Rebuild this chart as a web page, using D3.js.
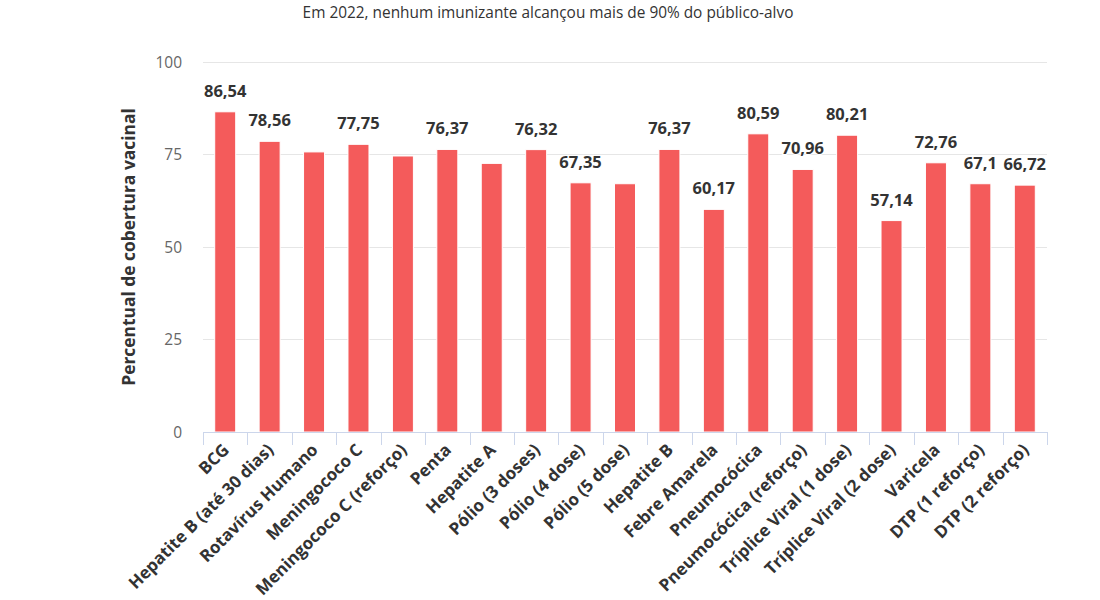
<!DOCTYPE html>
<html><head><meta charset="utf-8">
<script src="https://cdn.jsdelivr.net/npm/d3@7"></script>
<style>body{margin:0;background:#fff;overflow:hidden}svg{display:block;font-family:"Open Sans",sans-serif}</style>
</head><body><svg id="c" width="1100" height="600"></svg>
<script>
const title = "Em 2022, nenhum imunizante alcançou mais de 90% do público-alvo";
const yAxisTitle = "Percentual de cobertura vacinal";
const categories = ["BCG","Hepatite B (até 30 dias)","Rotavírus Humano","Meningococo C","Meningococo C (reforço)","Penta","Hepatite A","Pólio (3 doses)","Pólio (4 dose)","Pólio (5 dose)","Hepatite B","Febre Amarela","Pneumocócica","Pneumocócica (reforço)","Tríplice Viral (1 dose)","Tríplice Viral (2 dose)","Varicela","DTP (1 reforço)","DTP (2 reforço)"];
const values = [86.54,78.56,75.7,77.75,74.6,76.37,72.6,76.32,67.35,67.1,76.37,60.17,80.59,70.96,80.21,57.14,72.76,67.1,66.72];
const labelShown = [true,true,false,true,false,true,false,true,true,false,true,true,true,true,true,true,true,true,true];
const yTicks = [0,25,50,75,100];

const svg = d3.select("#c");
const m = {left:203, right:1047, top:62, bottom:432};
const x = d3.scaleBand().domain(categories).range([m.left, m.right]).paddingInner(0).paddingOuter(0);
const y = d3.scaleLinear().domain([0,100]).range([m.bottom, m.top]);
const fmt = v => String(v).replace(".", ",");

svg.append("text").attr("x", 548).attr("y", 18).attr("text-anchor","middle")
  .attr("font-size", 15.4).attr("fill","#333").text(title);

// grid
const yAx = svg.append("g");
yAx.selectAll("line").data(yTicks.filter(d=>d>0)).join("line")
  .attr("x1", m.left).attr("x2", m.right).attr("y1", d=>y(d)).attr("y2", d=>y(d))
  .attr("stroke","#e6e6e6").attr("stroke-width",1).attr("shape-rendering","crispEdges");
yAx.selectAll("text").data(yTicks).join("text")
  .attr("x", 182).attr("y", d=>y(d)+5.5).attr("text-anchor","end")
  .attr("font-size", 15.5).attr("fill","#666").text(d=>d);

svg.append("text").attr("transform",`translate(135,${(m.top+m.bottom)/2}) rotate(-90)`)
  .attr("text-anchor","middle").attr("font-size",17.4).attr("font-weight","bold").attr("fill","#333").text(yAxisTitle);

// bars
svg.append("g").selectAll("rect").data(categories).join("rect")
  .attr("x", d=>x(d)+x.bandwidth()/2-10.5).attr("width",21)
  .attr("y", (d,i)=>y(values[i])).attr("height",(d,i)=>y(0)-y(values[i]))
  .attr("fill","#f45b5b").attr("stroke","#fff").attr("stroke-width",1);

// x axis
const xa = svg.append("g");
xa.append("line").attr("x1",m.left).attr("x2",m.right).attr("y1",m.bottom+0.5).attr("y2",m.bottom+0.5).attr("stroke","#ccd6eb");
xa.selectAll("line.t").data(categories.concat([null])).join("line").attr("class","t")
  .attr("x1",(d,i)=>Math.round(m.left+i*x.bandwidth())+0.5).attr("x2",(d,i)=>Math.round(m.left+i*x.bandwidth())+0.5)
  .attr("y1",m.bottom).attr("y2",m.bottom+13).attr("stroke","#ccd6eb");
xa.selectAll("text").data(categories).join("text")
  .attr("transform", d=>`translate(${x(d)+x.bandwidth()/2+5},${m.bottom+19}) rotate(-45)`)
  .attr("text-anchor","end").attr("font-size",17).attr("font-weight","bold").attr("fill","#333").text(d=>d);

// data labels
const dl = svg.append("g");
categories.forEach((c,i)=>{
  if(!labelShown[i]) return;
  dl.append("text").attr("x", x(c)+x.bandwidth()/2).attr("y", y(values[i])-15)
    .attr("text-anchor","middle").attr("font-size",16.5).attr("font-weight","bold")
    .attr("fill","#333").attr("stroke","#fff").attr("stroke-width",2).attr("paint-order","stroke")
    .text(fmt(values[i]));
});
</script></body></html>
